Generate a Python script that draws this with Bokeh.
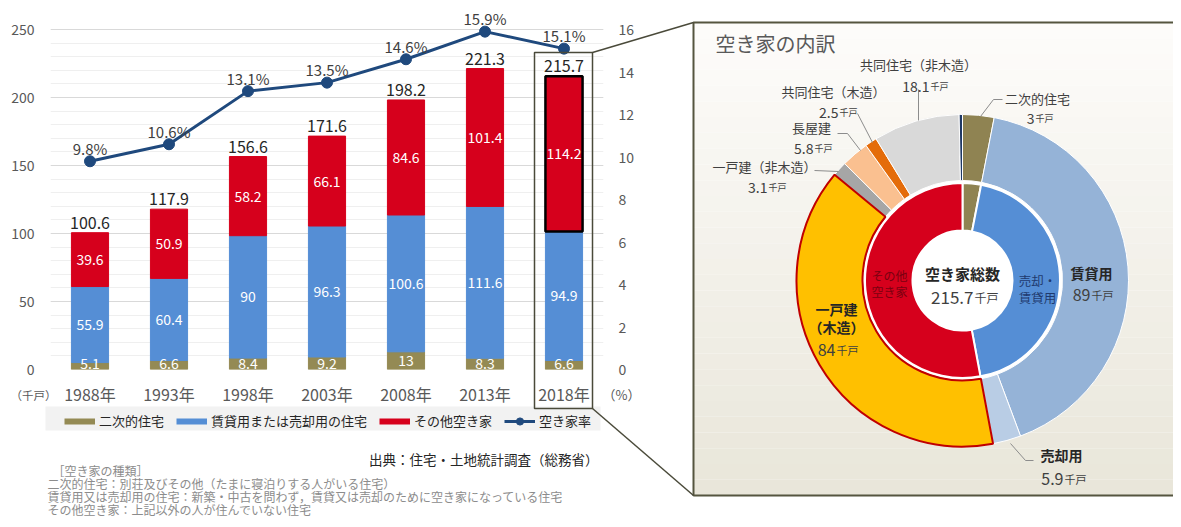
import numpy as np
from bokeh.plotting import figure
from bokeh.models import (FactorRange, Range1d, LinearAxis, SingleIntervalTicker,
                          ColumnDataSource, LabelSet, Legend, LegendItem)
from bokeh.embed import file_html
from bokeh.resources import INLINE
from bokeh.core.properties import value

# ---------------- data ----------------
years = ["1988年", "1993年", "1998年", "2003年", "2008年", "2013年", "2018年"]
second_homes = [5.1, 6.6, 8.4, 9.2, 13, 8.3, 6.6]
rent_or_sale = [55.9, 60.4, 90, 96.3, 100.6, 111.6, 94.9]
other_vacant = [39.6, 50.9, 58.2, 66.1, 84.6, 101.4, 114.2]
totals = [100.6, 117.9, 156.6, 171.6, 198.2, 221.3, 215.7]
vacancy_rate = [9.8, 10.6, 13.1, 13.5, 14.6, 15.9, 15.1]
series_names = ["二次的住宅", "賃貸用または売却用の住宅", "その他空き家", "空き家率"]

total_vacant = 215.7
inner_names = ["二次的住宅", "売却・賃貸用", "その他空き家"]
inner_values = [6.6, 94.9, 114.2]
outer_names = ["二次的住宅", "賃貸用", "売却用", "一戸建（木造）", "一戸建（非木造）",
               "長屋建", "共同住宅（木造）", "共同住宅（非木造）", "その他"]
outer_values = [6.6, 89, 5.9, 84, 3.1, 5.8, 2.5, 18.1, 0.7]
outer_value_labels = ["3", "89", "5.9", "84", "3.1", "5.8", "2.5", "18.1", ""]

notes = ["［空き家の種類］",
         "二次的住宅：別荘及びその他（たまに寝泊りする人がいる住宅）",
         "賃貸用又は売却用の住宅：新築・中古を問わず，賃貸又は売却のために空き家になっている住宅",
         "その他空き家：上記以外の人が住んでいない住宅"]
source_text = "出典：住宅・土地統計調査（総務省）"

# ---------------- style ----------------
FONT = "Noto Sans CJK JP"
C_BROWN = "#948a54"
C_BLUE = "#558ed5"
C_RED = "#d6001c"
C_NAVY = "#1f497d"
GRAY_TXT = "#595959"
outer_colors = ["#8f8352", "#95b3d7", "#b9cde5", "#ffc000", "#a6a6a6",
                "#fac090", "#e46c0a", "#d9d9d9", "#1f3864"]
inner_colors = ["#8f8352", "#558ed5", "#d6001c"]

W, H = 1165, 511
POS = {"position": "absolute", "left": "8px", "top": "8px"}

# ---------------- bar chart ----------------
s = np.array(second_homes, dtype=float)
r = np.array(rent_or_sale, dtype=float)
o = np.array(other_vacant, dtype=float)
fmt = lambda arr: [f"{v:g}" for v in arr]

src = ColumnDataSource(dict(
    year=years, second=second_homes, rent=rent_or_sale, other=other_vacant,
    total=totals, rate=vacancy_rate,
    y_second=np.maximum(s / 2, 4.5), y_rent=s + r / 2, y_other=s + r + o / 2,
    t_second=fmt(second_homes), t_rent=fmt(rent_or_sale), t_other=fmt(other_vacant),
    t_total=fmt(totals), t_rate=[f"{v:g}%" for v in vacancy_rate]))

# frame: page y 8..369 ; value 250 sits at page y 29 (headroom for the labels above)
Y_MAX, P_MAX = 250, 16
headroom = 21 / 340
p1 = figure(x_range=FactorRange(*years), y_range=Range1d(0, Y_MAX * (1 + headroom)),
            width=W, height=H, toolbar_location=None, output_backend="svg",
            min_border_left=40, min_border_right=570, min_border_top=0, min_border_bottom=150)
p1.styles = POS
p1.extra_y_ranges = {"pct": Range1d(0, P_MAX * (1 + headroom))}
p1.outline_line_color = None
p1.xgrid.grid_line_color = None

tk = SingleIntervalTicker(interval=50, num_minor_ticks=5)
yl = p1.left[0]
yl.ticker = tk
yl.bounds = (0, Y_MAX)
p1.ygrid.ticker = tk
p1.ygrid.bounds = (0, Y_MAX)
p1.ygrid.grid_line_color = "#d9d9d9"
p1.ygrid.minor_grid_line_color = "#efefef"

yr = LinearAxis(y_range_name="pct", ticker=SingleIntervalTicker(interval=2, num_minor_ticks=0),
                bounds=(0, P_MAX))
p1.add_layout(yr, "right")
xa = p1.below[0]
for ax, so in ((yl, 10), (yr, 9), (xa, 6)):
    ax.axis_line_color = None
    ax.major_tick_line_color = None
    ax.minor_tick_line_color = None
    ax.major_label_text_font = FONT
    ax.major_label_text_color = GRAY_TXT
    ax.major_label_standoff = so
yl.major_label_text_font_size = "14px"
yr.major_label_text_font_size = "14px"
xa.major_label_text_font_size = "16px"

p1.vbar_stack(["second", "rent", "other"], x="year", width=0.47, source=src,
              color=[C_BROWN, C_BLUE, C_RED])
hl = ColumnDataSource(dict(year=[years[-1]], bottom=[s[-1] + r[-1]], top=[totals[-1]]))
p1.vbar(x="year", bottom="bottom", top="top", width=0.47, source=hl,
        fill_color=None, line_color="black", line_width=2.5)

p1.line("year", "rate", source=src, y_range_name="pct", line_color=C_NAVY, line_width=3)
p1.scatter("year", "rate", source=src, y_range_name="pct", size=11,
           fill_color=C_NAVY, line_color=C_NAVY)

for col, ycol in (("t_second", "y_second"), ("t_rent", "y_rent"), ("t_other", "y_other")):
    p1.add_layout(LabelSet(x="year", y=ycol, text=col, source=src, text_color="white",
                           text_font=value(FONT), text_font_size="14px",
                           text_align="center", text_baseline="middle"))
p1.add_layout(LabelSet(x="year", y="total", text="t_total", source=src, y_offset=10,
                       text_color="#262626", text_font=value(FONT), text_font_size="16px",
                       text_align="center", text_baseline="middle"))
p1.add_layout(LabelSet(x="year", y="rate", text="t_rate", source=src, y_range_name="pct",
                       y_offset=13, text_color="#404040", text_font=value(FONT),
                       text_font_size="15px", text_align="center", text_baseline="middle"))

# ---------------- overlay (legend, panel, donut, notes) ----------------
p2 = figure(width=W, height=H, x_range=Range1d(8, 8 + W), y_range=Range1d(0, H),
            x_axis_type=None, y_axis_type=None, toolbar_location=None,
            output_backend="svg", min_border=0, outline_line_color=None,
            background_fill_color=None, border_fill_color=None)
p2.styles = POS

def Y(py):
    return 8 + H - py

def txt(xs, ys, texts, size, color="#404040", align="center", baseline="middle", bold=False):
    p2.text(x=xs, y=[Y(v) for v in ys], text=texts, text_font=value(FONT),
            text_font_size=f"{size}px", text_color=color, text_align=align,
            text_baseline=baseline, text_font_style="bold" if bold else "normal")

# legend background + legend (proxies styled like the series, kept off-canvas)
p2.quad(left=45, right=600, top=Y(406), bottom=Y(430), fill_color="#f2f2f2", line_color=None)
off_x, off_y = [-200, -190], [0, 0]
g1 = p2.line(off_x, off_y, line_color=C_BROWN, line_width=6)
g2 = p2.line(off_x, off_y, line_color=C_BLUE, line_width=6)
g3 = p2.line(off_x, off_y, line_color=C_RED, line_width=6)
g4 = p2.line(off_x, off_y, line_color=C_NAVY, line_width=3)
g5 = p2.scatter(off_x[:1], off_y[:1], size=8, fill_color=C_NAVY, line_color=C_NAVY)
legend = Legend(items=[LegendItem(label=series_names[0], renderers=[g1]),
                       LegendItem(label=series_names[1], renderers=[g2]),
                       LegendItem(label=series_names[2], renderers=[g3]),
                       LegendItem(label=series_names[3], renderers=[g4, g5])],
                orientation="horizontal", location=(56, 89),
                background_fill_alpha=0, border_line_color=None,
                label_text_font=FONT, label_text_font_size="13px", label_text_color="#262626",
                glyph_width=31, glyph_height=18, label_height=16, spacing=12,
                padding=3, margin=0, label_standoff=4)
p2.add_layout(legend)

# panel with gradient
PT, PB, PL, PR = 22, 495, 693, 1200
n = 30
edges = np.linspace(PT, PB, n + 1)
c0 = np.array([253, 252, 250]); c1 = np.array([233, 230, 218])
cols = ["#%02x%02x%02x" % tuple(int(round(v)) for v in c0 + (c1 - c0) * i / (n - 1)) for i in range(n)]
p2.quad(left=PL, right=PR, top=[Y(e) for e in edges[:-1]], bottom=[Y(e) for e in edges[1:]],
        fill_color=cols, line_color=None)
p2.quad(left=PL, right=PR, top=Y(PT), bottom=Y(PB), fill_color=None,
        line_color="#55553f", line_width=2)

# highlight box + connectors
EDGE = "#4a4a3a"
p2.quad(left=534, right=592, top=Y(52), bottom=Y(408), fill_color=None, line_color=EDGE, line_width=1.5)
p2.line([592, PL], [Y(52), Y(PT)], line_color=EDGE, line_width=1.5)
p2.line([592, PL], [Y(408), Y(PB)], line_color=EDGE, line_width=1.5)

# donut
cx, cy = 962, Y(280)
def angles(vals):
    cum = np.concatenate([[0], np.cumsum(vals)]) / total_vacant * 2 * np.pi
    return np.pi / 2 - cum[1:], np.pi / 2 - cum[:-1]

p2.circle(x=cx, y=cy, radius=100, fill_color="white", line_color=None)
os_, oe_ = angles(outer_values)
p2.annular_wedge(x=cx, y=cy, inner_radius=100, outer_radius=166, start_angle=os_, end_angle=oe_,
                 fill_color=outer_colors, line_color="white", line_width=1)
k = outer_names.index("一戸建（木造）")
p2.annular_wedge(x=cx, y=cy, inner_radius=100, outer_radius=166, start_angle=os_[k], end_angle=oe_[k],
                 fill_color=outer_colors[k], line_color="#c00000", line_width=2)
is_, ie_ = angles(inner_values)
p2.annular_wedge(x=cx, y=cy, inner_radius=50, outer_radius=97.5, start_angle=is_, end_angle=ie_,
                 fill_color=inner_colors, line_color="white", line_width=2)
p2.circle(x=cx, y=cy, radius=50, fill_color="white", line_color=None)

# title
txt([715], [43], ["空き家の内訳"], 20, color=GRAY_TXT, align="left")

# leader lines
LC = "#8c8c8c"
p2.multi_line(xs=[[918, 918], [857, 872], [837, 847, 860], [814, 838], [1002, 993, 980], [1010, 1025, 1033]],
              ys=[[Y(89), Y(120)], [Y(113), Y(142)], [Y(133), Y(133), Y(150)], [Y(170), Y(171)],
                  [Y(99), Y(99), Y(116)], [Y(443), Y(460), Y(460)]],
              line_color=LC, line_width=1)

# outer name labels
name_pos = {"共同住宅（非木造）": (918, 64), "共同住宅（木造）": (833, 91), "長屋建": (811, 127),
            "一戸建（非木造）": (764, 166), "二次的住宅": (1037, 98)}
for nm, (x, y) in name_pos.items():
    txt([x], [y], [nm], 13)
txt([1091], [272], [outer_names[1]], 14, color="#262626", bold=True)
txt([1061], [454], [outer_names[2]], 14, color="#262626", bold=True)
txt([836, 836], [308, 326], ["一戸建", "（木造）"], 14, color="#262626", bold=True)

# value labels (number + small unit)
val_pos = {"18.1": (929, 81, 14, 9), "2.5": (838, 107, 14, 9), "5.8": (813, 143, 14, 9),
           "3.1": (767, 182, 14, 9), "3": (1034, 113, 14, 9), "89": (1090, 289, 16, 11),
           "5.9": (1063, 473, 16, 11), "84": (835, 344, 16, 11)}
for lab in outer_value_labels:
    if not lab:
        continue
    x, y, ns, us = val_pos[lab]
    base = y + 0.36 * ns
    txt([x], [base], [lab], ns, color="#404040", align="right", baseline="alphabetic")
    txt([x + 1], [base], ["千戸"], us, color="#404040", align="left", baseline="alphabetic")

# inner labels
txt([889, 889], [275, 291], ["その他", "空き家"], 12, color="#7a0010")
txt([1037, 1037], [280, 297], ["売却・", "賃貸用"], 12.5, color="#1f3a6e")
txt([962], [273], ["空き家総数"], 15, color="#262626", bold=True)
txt([973], [291 + 0.36 * 17], [f"{total_vacant:g}"], 17, color="#404040", align="right", baseline="alphabetic")
txt([974], [291 + 0.36 * 17], ["千戸"], 12, color="#404040", align="left", baseline="alphabetic")

# axis units
txt([33], [394], ["（千戸）"], 11.5, color=GRAY_TXT)
txt([621], [394], ["（%）"], 13, color=GRAY_TXT)

# source & notes
txt([598], [458], [source_text], 13.5, color="#262626", align="right")
txt([52], [470], [notes[0]], 12, color="#8c8c8c", align="left")
txt([47, 47, 47], [483, 496, 509], notes[1:], 12, color="#8c8c8c", align="left")

open("out.html", "w").write(file_html([p1, p2], INLINE))
